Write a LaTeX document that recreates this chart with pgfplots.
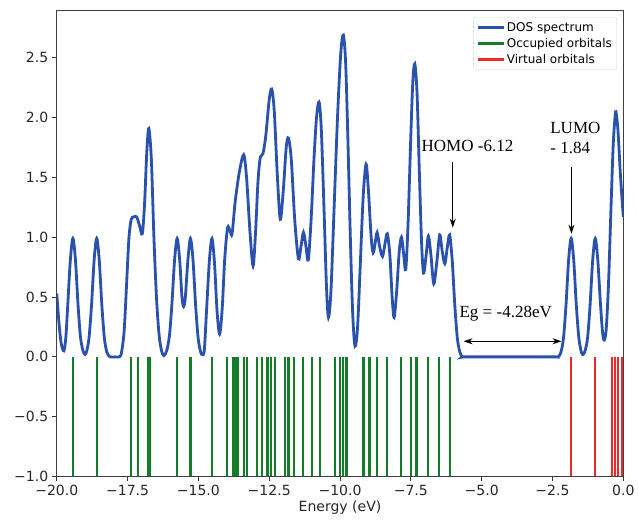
\documentclass[border=0pt]{standalone}
\usepackage{fontspec}
\setmainfont{DejaVu Sans}
\newfontfamily\tnr{Liberation Serif}
\usepackage{pgfplots}
\pgfplotsset{compat=1.18}
\usetikzlibrary{arrows.meta}
\definecolor{dosblue}{RGB}{42,82,172}
\definecolor{occgreen}{RGB}{20,125,40}
\definecolor{virtred}{RGB}{240,40,40}

\begin{document}
\begin{tikzpicture}
\begin{axis}[
    scale only axis,
    width=566pt, height=466pt,
    xmin=-20, xmax=0,
    ymin=-1, ymax=2.9,
    xtick={-20,-17.5,-15,-12.5,-10,-7.5,-5,-2.5,0},
    xticklabels={−20.0,−17.5,−15.0,−12.5,−10.0,−7.5,−5.0,−2.5,0.0},
    ytick={-1,-0.5,0,0.5,1,1.5,2,2.5},
    yticklabels={−1.0,−0.5,0.0,0.5,1.0,1.5,2.0,2.5},
    tick pos=left,
    tick align=outside,
    major tick length=5pt,
    tick style={black!80, line width=0.9pt},
    axis line style={black!75, line width=1pt},
    ticklabel style={font=\fontsize{14}{16}\selectfont, text=black!85},
    xlabel={Energy (eV)},
    xlabel style={font=\fontsize{14}{16}\selectfont, text=black!85, yshift=2pt},
    legend cell align=left,
    legend style={at={(0.989,0.985)}, anchor=north east,
        font=\fontsize{12}{14}\selectfont, draw=black!15, rounded corners=2pt,
        inner xsep=3pt, inner ysep=3pt, row sep=1.5pt},
    legend image code/.code={\draw[#1, line width=2.2pt] (0pt,0pt) -- (26pt,0pt);},
]

% DOS spectrum
\addplot[dosblue, line width=2.8pt, smooth] coordinates {
(-20.00,0.53)(-19.92,0.28)(-19.84,0.11)(-19.75,0.05)(-19.68,0.16)(-19.61,0.44)
(-19.52,0.81)(-19.43,0.99)(-19.34,0.81)(-19.25,0.44)(-19.16,0.16)(-19.07,0.05)
(-19.00,0.02)(-18.94,0.05)(-18.86,0.16)(-18.77,0.44)(-18.68,0.81)(-18.59,0.99)
(-18.50,0.81)(-18.41,0.44)(-18.32,0.16)(-18.23,0.04)(-18.12,0.00)(-17.95,0.00)
(-17.80,0.00)(-17.72,0.03)(-17.62,0.22)(-17.52,0.68)(-17.45,1.00)(-17.37,1.15)
(-17.28,1.17)(-17.18,1.17)(-17.08,1.10)(-16.98,1.03)(-16.90,1.28)(-16.82,1.72)
(-16.75,1.91)(-16.66,1.65)(-16.57,1.00)(-16.48,0.50)(-16.39,0.19)(-16.30,0.05)
(-16.22,0.01)(-16.12,0.05)(-16.02,0.18)(-15.93,0.46)(-15.84,0.81)(-15.75,0.99)
(-15.66,0.81)(-15.58,0.50)(-15.52,0.42)(-15.46,0.50)(-15.37,0.81)(-15.28,0.99)
(-15.19,0.81)(-15.10,0.44)(-15.01,0.16)(-14.92,0.04)(-14.86,0.02)(-14.79,0.06)
(-14.70,0.44)(-14.61,0.81)(-14.52,0.99)(-14.43,0.78)(-14.34,0.38)(-14.25,0.19)
(-14.16,0.40)(-14.07,0.82)(-13.97,1.08)(-13.88,1.05)(-13.81,1.03)(-13.70,1.30)
(-13.55,1.55)(-13.40,1.69)(-13.30,1.50)(-13.18,1.05)(-13.07,0.76)(-12.98,1.05)
(-12.90,1.45)(-12.82,1.66)(-12.72,1.70)(-12.62,1.85)(-12.50,2.15)(-12.41,2.24)
(-12.32,2.05)(-12.22,1.55)(-12.11,1.15)(-12.00,1.40)(-11.90,1.75)(-11.82,1.83)
(-11.72,1.65)(-11.60,1.15)(-11.47,0.82)(-11.38,0.92)(-11.29,1.04)(-11.20,0.92)
(-11.12,0.81)(-11.02,1.15)(-10.92,1.65)(-10.83,2.00)(-10.74,2.13)(-10.66,1.90)
(-10.56,1.20)(-10.48,0.60)(-10.41,0.33)(-10.32,0.55)(-10.20,1.30)(-10.08,2.05)
(-9.97,2.55)(-9.88,2.69)(-9.80,2.45)(-9.72,1.80)(-9.63,0.95)(-9.55,0.35)
(-9.47,0.09)(-9.38,0.25)(-9.28,0.80)(-9.18,1.35)(-9.08,1.61)(-9.00,1.40)
(-8.90,1.00)(-8.83,0.87)(-8.76,0.95)(-8.69,1.04)(-8.60,0.92)(-8.50,0.84)
(-8.41,0.95)(-8.33,1.03)(-8.24,0.85)(-8.16,0.50)(-8.09,0.33)(-8.00,0.55)
(-7.91,0.88)(-7.83,1.00)(-7.75,0.85)(-7.68,0.73)(-7.60,1.10)(-7.50,1.85)
(-7.43,2.30)(-7.36,2.45)(-7.28,2.20)(-7.20,1.55)(-7.12,0.95)(-7.05,0.70)
(-6.96,0.85)(-6.88,1.01)(-6.79,0.85)(-6.69,0.61)(-6.58,0.80)(-6.48,1.02)
(-6.39,0.88)(-6.30,0.78)(-6.21,0.92)(-6.13,1.02)(-6.04,0.81)(-5.95,0.44)
(-5.86,0.16)(-5.77,0.04)(-5.68,0.00)(-5.55,0.00)(-4.00,0.00)(-2.45,0.00)
(-2.30,0.00)(-2.20,0.04)(-2.11,0.16)(-2.02,0.44)(-1.93,0.81)(-1.84,0.99)
(-1.75,0.81)(-1.66,0.44)(-1.57,0.16)(-1.48,0.04)(-1.42,0.02)(-1.35,0.05)
(-1.26,0.16)(-1.17,0.44)(-1.08,0.81)(-0.99,0.99)(-0.90,0.81)(-0.81,0.46)
(-0.73,0.20)(-0.67,0.14)(-0.60,0.24)(-0.52,0.62)(-0.44,1.20)(-0.36,1.75)
(-0.30,1.98)(-0.26,2.05)(-0.19,1.90)(-0.10,1.52)(0.00,1.17)
};
\addlegendentry{DOS spectrum}

% occupied orbital energies (sticks from 0 to -1)
\addplot[occgreen, line width=2.1pt, ycomb, mark=none] coordinates {
(-19.43,-1)(-18.57,-1)(-17.39,-1)(-17.14,-1)(-16.78,-1)(-16.70,-1)
(-15.75,-1)(-15.28,-1)(-14.52,-1)(-13.99,-1)(-13.78,-1)(-13.70,-1)
(-13.62,-1)(-13.40,-1)(-13.29,-1)(-12.93,-1)(-12.76,-1)(-12.56,-1)
(-12.44,-1)(-12.31,-1)(-11.94,-1)(-11.82,-1)(-11.64,-1)(-11.30,-1)
(-10.99,-1)(-10.70,-1)(-10.18,-1)(-10.00,-1)(-9.89,-1)(-9.77,-1)
(-9.17,-1)(-8.96,-1)(-8.68,-1)(-8.33,-1)(-7.85,-1)(-7.48,-1)
(-7.30,-1)(-6.88,-1)(-6.52,-1)(-6.12,-1)
};
\addlegendentry{Occupied orbitals}

% virtual orbital energies
\addplot[virtred, line width=2.1pt, ycomb, mark=none] coordinates {
(-1.84,-1)(-0.99,-1)(-0.40,-1)(-0.30,-1)(-0.20,-1)(-0.05,-1)
};
\addlegendentry{Virtual orbitals}

% annotations
\node[font=\tnr\fontsize{17}{19}\selectfont, anchor=base] at (axis cs:-5.50,1.72) {HOMO -6.12};
\draw[-{Stealth[length=9pt,width=6pt]}, line width=0.9pt] (axis cs:-6.02,1.63) -- (axis cs:-6.02,1.08);
\node[font=\tnr\fontsize{17}{19}\selectfont, anchor=base west] at (axis cs:-2.70,1.87) {LUMO};
\node[font=\tnr\fontsize{17}{19}\selectfont, anchor=base west] at (axis cs:-2.70,1.70) {- 1.84};
\draw[-{Stealth[length=9pt,width=6pt]}, line width=0.9pt] (axis cs:-1.83,1.59) -- (axis cs:-1.83,1.03);
\node[font=\tnr\fontsize{17}{19}\selectfont, anchor=base] at (axis cs:-4.15,0.33) {Eg = -4.28eV};
\draw[{Stealth[length=9pt,width=6pt]}-{Stealth[length=9pt,width=6pt]}, line width=0.9pt]
    (axis cs:-5.64,0.13) -- (axis cs:-2.18,0.13);
\end{axis}
\path ([shift={(-56.7pt,10pt)}]current axis.north west) rectangle ([shift={(14.7pt,-47pt)}]current axis.south east);
\end{tikzpicture}
\end{document}
